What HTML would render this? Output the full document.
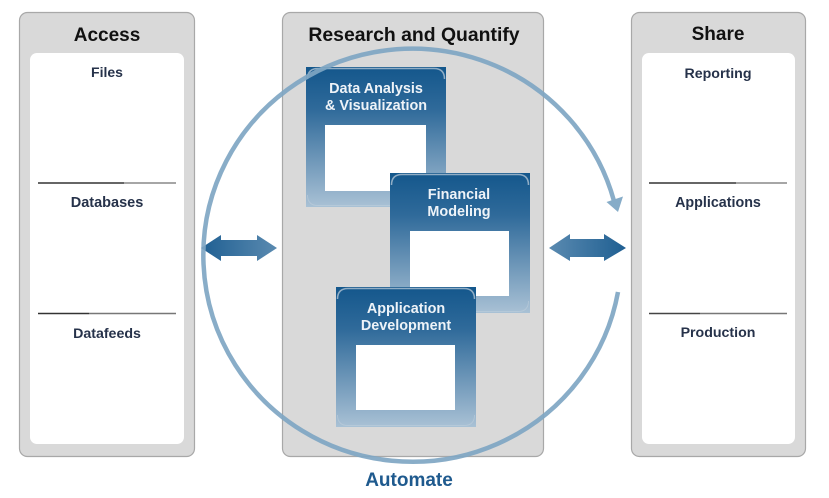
<!DOCTYPE html>
<html>
<head>
<meta charset="utf-8">
<style>
html,body{margin:0;padding:0;background:#fff;}
svg{display:block;filter:blur(0.35px);}
text{font-family:"Liberation Sans",sans-serif;font-weight:bold;text-anchor:middle;}
</style>
</head>
<body>
<svg width="829" height="498" viewBox="0 0 829 498" xmlns="http://www.w3.org/2000/svg">
<defs>
<linearGradient id="card" x1="0" y1="0" x2="0" y2="1">
<stop offset="0" stop-color="#14578c"/>
<stop offset="0.3" stop-color="#2f6a9a"/>
<stop offset="1" stop-color="#a9c1d5"/>
</linearGradient>
<linearGradient id="a1" x1="0" y1="0" x2="1" y2="0">
<stop offset="0" stop-color="#1f5f92"/>
<stop offset="1" stop-color="#5a8ab0"/>
</linearGradient>
<linearGradient id="a2" x1="0" y1="0" x2="1" y2="0">
<stop offset="0" stop-color="#5a8ab0"/>
<stop offset="1" stop-color="#1f5f92"/>
</linearGradient>
<g id="c">
<rect x="0" y="0" width="140" height="140" fill="url(#card)"/>
<path d="M1.500 12 Q1.500 1.500 12 1.500 H128 Q138.500 1.500 138.500 12" fill="none" stroke="#c4d2dd" stroke-width="1.500" opacity=".7"/>
<path d="M1.500 128 Q1.500 138.500 12 138.500 H128 Q138.500 138.500 138.500 128" fill="none" stroke="#c4d2dd" stroke-width="1" opacity=".5"/>
</g>
</defs>

<rect x="19.500" y="12.500" width="175" height="444" rx="8" fill="#d9d9d9" stroke="#a8a8a8" stroke-width="1.200"/>
<rect x="282.500" y="12.500" width="261" height="444" rx="8" fill="#d9d9d9" stroke="#a8a8a8" stroke-width="1.200"/>
<rect x="631.500" y="12.500" width="174" height="444" rx="8" fill="#d9d9d9" stroke="#a8a8a8" stroke-width="1.200"/>
<rect x="30" y="53" width="154" height="391" rx="7" fill="#fff"/>
<rect x="642" y="53" width="153" height="391" rx="7" fill="#fff"/>

<text x="107" y="41" font-size="19" fill="#111">Access</text>
<text x="414" y="41" font-size="19.400" fill="#111">Research and Quantify</text>
<text x="718" y="40" font-size="19" fill="#111">Share</text>

<text x="107" y="77" font-size="14" fill="#26324a">Files</text>
<text x="107" y="207" font-size="14.500" fill="#26324a">Databases</text>
<text x="107" y="338" font-size="14.200" fill="#26324a">Datafeeds</text>
<text x="718" y="78" font-size="14.200" fill="#26324a">Reporting</text>
<text x="718" y="207" font-size="14.300" fill="#26324a">Applications</text>
<text x="718" y="337" font-size="14.200" fill="#26324a">Production</text>

<g stroke-width="1.500" fill="none">
<path d="M38 183H124" stroke="#333"/><path d="M124 183H176" stroke="#888"/>
<path d="M38 313.500H89" stroke="#333"/><path d="M89 313.500H176" stroke="#777"/>
<path d="M649 183H736" stroke="#333"/><path d="M736 183H787" stroke="#888"/>
<path d="M649 313.500H700" stroke="#444"/><path d="M700 313.500H787" stroke="#777"/>
</g>

<use href="#c" x="306" y="67"/>
<rect x="325" y="125" width="101" height="66" fill="#fff"/>
<text x="376" y="93" font-size="14.400" fill="#eef3f8">Data Analysis</text>
<text x="376" y="110" font-size="14.400" fill="#eef3f8">&amp; Visualization</text>

<use href="#c" x="390" y="173"/>
<rect x="410" y="231" width="99" height="65" fill="#fff"/>
<text x="459" y="199" font-size="14.400" fill="#eef3f8">Financial</text>
<text x="459" y="216" font-size="14.400" fill="#eef3f8">Modeling</text>

<use href="#c" x="336" y="287"/>
<rect x="356" y="345" width="99" height="65" fill="#fff"/>
<text x="406" y="313" font-size="14.400" fill="#eef3f8">Application</text>
<text x="406" y="330" font-size="14.400" fill="#eef3f8">Development</text>

<path d="M201 248L221 235V240H257V235L277 248L257 261V256H221V261Z" fill="url(#a1)"/>
<path d="M549 248L570 234V239H604V234L626 248L604 261V257H570V261Z" fill="url(#a2)"/>

<path d="M618 292 A209 206.500 0 1 1 614 201" fill="none" stroke="#7fa6c3" stroke-width="4.500" opacity=".92"/>
<path d="M618 212L606.500 202L623 196.500Z" fill="#86acc8"/>

<text x="409" y="486" font-size="19" fill="#1f5a8e">Automate</text>
</svg>
</body>
</html>
